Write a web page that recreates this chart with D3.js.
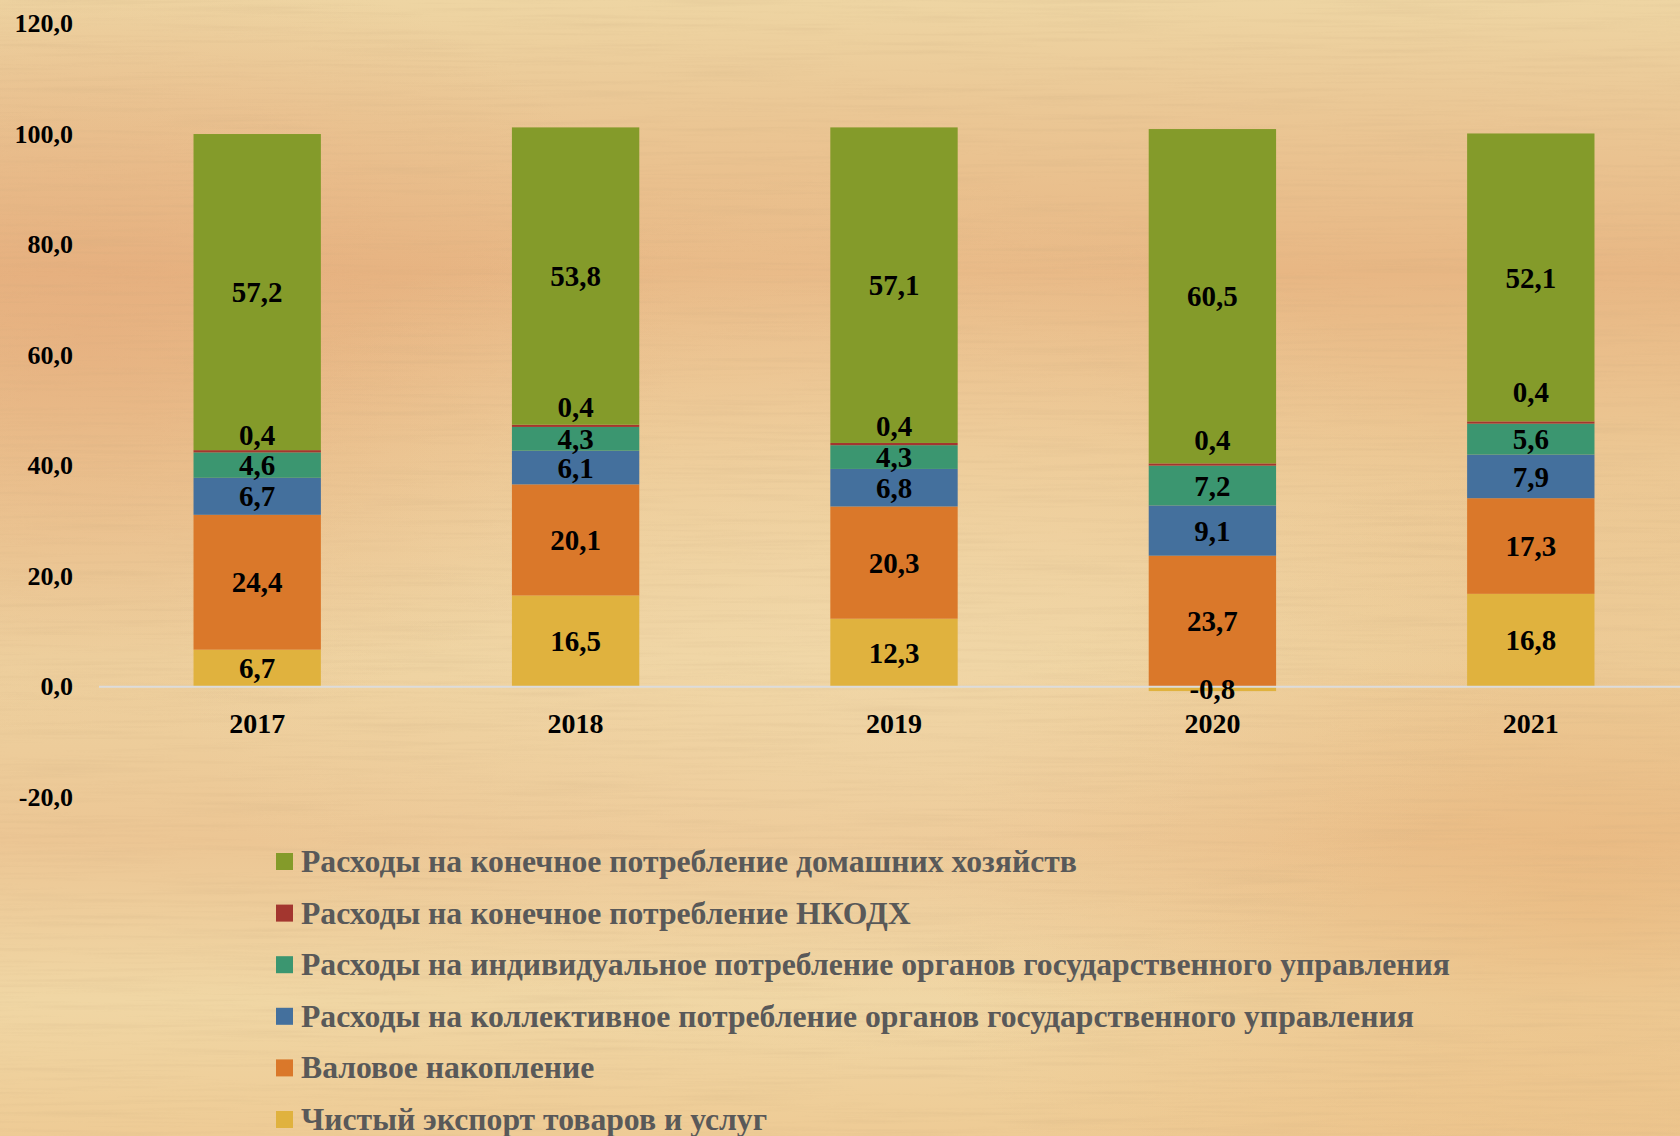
<!DOCTYPE html>
<html>
<head>
<meta charset="utf-8">
<script src="https://cdn.jsdelivr.net/npm/d3@7"></script>
<style>
	body { margin: 0; background: #ebc896; overflow: hidden; }
	svg { display: block; }
	text { font-family: "Liberation Serif", "DejaVu Serif", serif; font-weight: bold; }
</style>
</head>
<body>
<div id="chart"></div>
<script>

// ******* DATA *******
var years = ["2017", "2018", "2019", "2020", "2021"];

// series, bottom of the stack first
var seriesKeys = ["export", "accum", "collective", "individual", "nkodx", "households"];
var seriesNames = [
	"Чистый экспорт товаров и услуг",
	"Валовое накопление",
	"Расходы на коллективное потребление органов государственного управления",
	"Расходы на индивидуальное потребление органов государственного управления",
	"Расходы на конечное потребление НКОДХ",
	"Расходы на конечное потребление домашних хозяйств"
];
var netExport = [6.7, 16.5, 12.3, -0.8, 16.8];
var grossAccumulation = [24.4, 20.1, 20.3, 23.7, 17.3];
var collectiveGov = [6.7, 6.1, 6.8, 9.1, 7.9];
var individualGov = [4.6, 4.3, 4.3, 7.2, 5.6];
var nkodx = [0.4, 0.4, 0.4, 0.4, 0.4];
var households = [57.2, 53.8, 57.1, 60.5, 52.1];

var yTicks = [-20, 0, 20, 40, 60, 80, 100, 120];

// ******* STYLE *******
var colors = ["#e0b23e", "#da782a", "#44709d", "#3b9670", "#a3362f", "#849b2a"];
// the tiny NKODX labels were dragged above their segment in the original
var nkodxLabelNudge = [-16, -19, -18, -25, -31];

var width = 1680,
	height = 1136;

var svg = d3.select("#chart").append("svg")
	.attr("width", width)
	.attr("height", height);

// ******* BACKGROUND (wood-like paper) *******
var defs = svg.append("defs");

var bgGrad = defs.append("linearGradient")
	.attr("id", "bg-grad")
	.attr("x1", 0).attr("y1", 0).attr("x2", 0).attr("y2", 1);
[["0%", "#eed5a3"], ["9%", "#ebc896"], ["24%", "#e8b784"], ["40%", "#ecc793"],
 ["58%", "#eed2a0"], ["74%", "#ecc694"], ["88%", "#f0d6a4"], ["100%", "#eecb95"]]
	.forEach(function(s) {
		bgGrad.append("stop").attr("offset", s[0]).attr("stop-color", s[1]);
	});

var warmRight = defs.append("radialGradient")
	.attr("id", "warm-right")
	.attr("cx", 0.95).attr("cy", 0.8).attr("r", 0.4);
warmRight.append("stop").attr("offset", "0%").attr("stop-color", "#e6a766").attr("stop-opacity", 0.4);
warmRight.append("stop").attr("offset", "100%").attr("stop-color", "#e6a766").attr("stop-opacity", 0);

var warmLeft = defs.append("radialGradient")
	.attr("id", "warm-left")
	.attr("cx", 0.05).attr("cy", 0.3).attr("r", 0.35);
warmLeft.append("stop").attr("offset", "0%").attr("stop-color", "#e3a577").attr("stop-opacity", 0.45);
warmLeft.append("stop").attr("offset", "100%").attr("stop-color", "#e3a577").attr("stop-opacity", 0);

var lightCenter = defs.append("radialGradient")
	.attr("id", "light-center")
	.attr("cx", 0.5).attr("cy", 0.55).attr("r", 0.4);
lightCenter.append("stop").attr("offset", "0%").attr("stop-color", "#f3dcaf").attr("stop-opacity", 0.5);
lightCenter.append("stop").attr("offset", "100%").attr("stop-color", "#f3dcaf").attr("stop-opacity", 0);

var grain = defs.append("filter")
	.attr("id", "grain")
	.attr("x", 0).attr("y", 0).attr("width", "100%").attr("height", "100%");
grain.append("feTurbulence")
	.attr("type", "fractalNoise")
	.attr("baseFrequency", "0.006 0.25")
	.attr("numOctaves", 3)
	.attr("seed", 4);
grain.append("feColorMatrix")
	.attr("values", "0 0 0 0 0.55  0 0 0 0 0.38  0 0 0 0 0.2  0 0 0 -1.1 0.6");

svg.append("rect").attr("width", width).attr("height", height).attr("fill", "url(#bg-grad)");
svg.append("rect").attr("width", width).attr("height", height).attr("fill", "url(#warm-right)");
svg.append("rect").attr("width", width).attr("height", height).attr("fill", "url(#warm-left)");
svg.append("rect").attr("width", width).attr("height", height).attr("fill", "url(#light-center)");
svg.append("rect").attr("width", width).attr("height", height)
	.attr("filter", "url(#grain)")
	.attr("opacity", 0.3);

// ******* SCALES & AXES *******
var xScale = d3.scaleBand()
	.domain(years)
	.range([98, 1690])
	.paddingInner(0.6)
	.paddingOuter(0.3);

var yScale = d3.scaleLinear()
	.domain([-20, 120])
	.range([797.2, 23.5]);

var ru = d3.formatLocale({decimal: ",", thousands: " ", grouping: [3], currency: ["", ""], minus: "-"});
var fmt = ru.format(".1f");

var yAxis = d3.axisLeft(yScale)
	.tickValues(yTicks)
	.tickFormat(fmt)
	.tickSize(0)
	.tickPadding(0);

var yAxisGroup = svg.append("g")
	.attr("class", "y-axis")
	.attr("transform", "translate(73,0)")
	.call(yAxis);
yAxisGroup.select(".domain").remove();
yAxisGroup.selectAll("text")
	.attr("font-family", null)
	.style("font-size", "26px")
	.attr("fill", "#000");

// ******* STACKED BARS *******
var rows = years.map(function(yr, i) {
	return {
		year: yr,
		"export": netExport[i],
		accum: grossAccumulation[i],
		collective: collectiveGov[i],
		individual: individualGov[i],
		nkodx: nkodx[i],
		households: households[i]
	};
});

var stack = d3.stack()
	.keys(seriesKeys)
	.offset(d3.stackOffsetDiverging);
var stacked = stack(rows);

var layers = svg.selectAll(".layer")
	.data(stacked)
	.enter().append("g")
	.attr("class", "layer")
	.attr("fill", function(d, i) { return colors[i]; });

layers.selectAll("rect")
	.data(function(d) { return d; })
	.enter().append("rect")
	.attr("x", function(d) { return xScale(d.data.year); })
	.attr("width", xScale.bandwidth())
	.attr("y", function(d) { return yScale(Math.max(d[0], d[1])); })
	.attr("height", function(d) { return Math.abs(yScale(d[0]) - yScale(d[1])); });

// zero line
svg.append("line")
	.attr("x1", 99)
	.attr("x2", width)
	.attr("y1", yScale(0))
	.attr("y2", yScale(0))
	.attr("stroke", "#dcdcdc")
	.attr("stroke-width", 2);

// x labels
var xAxis = d3.axisBottom(xScale)
	.tickSize(0)
	.tickPadding(0);
var xAxisGroup = svg.append("g")
	.attr("class", "x-axis")
	.attr("transform", "translate(0,723)")
	.call(xAxis);
xAxisGroup.select(".domain").remove();
xAxisGroup.selectAll("text")
	.attr("font-family", null)
	.attr("dy", "0.35em")
	.style("font-size", "28px")
	.attr("fill", "#000");

// value labels, on top of every bar
var labelLayer = svg.append("g").attr("class", "value-labels");
stacked.forEach(function(layer, li) {
	labelLayer.selectAll(".value-" + li)
		.data(layer)
		.enter().append("text")
		.attr("class", "value-" + li)
		.attr("x", function(d) { return xScale(d.data.year) + xScale.bandwidth() / 2; })
		.attr("y", function(d, i) {
			var yc = (yScale(d[0]) + yScale(d[1])) / 2;
			if (seriesKeys[li] == "nkodx") yc += nkodxLabelNudge[i];
			return yc;
		})
		.attr("dy", "0.35em")
		.attr("text-anchor", "middle")
		.style("font-size", "29px")
		.attr("fill", "#000")
		.text(function(d) { return fmt(d.data[seriesKeys[li]]); });
});

// ******* LEGEND *******
var legendOrder = d3.range(seriesKeys.length).reverse();
var legend = svg.selectAll(".legend")
	.data(legendOrder)
	.enter().append("g")
	.attr("class", "legend")
	.attr("transform", function(d, i) { return "translate(276," + (861.5 + i * 51.6) + ")"; });

legend.append("rect")
	.attr("x", 0)
	.attr("y", -8.5)
	.attr("width", 17)
	.attr("height", 17)
	.attr("fill", function(d) { return colors[d]; });

var legendText = legend.append("text")
	.attr("x", 25)
	.attr("dy", "0.33em")
	.style("font-size", "28px")
	.attr("fill", "#595959")
	.text(function(d) { return seriesNames[d]; });

// fit legend font so the longest entry spans the same width as the original
var longest = d3.max(legendText.nodes(), function(n) { return n.getComputedTextLength(); });
legendText.style("font-size", (28 * 1148 / longest).toFixed(1) + "px");

</script>
</body>
</html>
